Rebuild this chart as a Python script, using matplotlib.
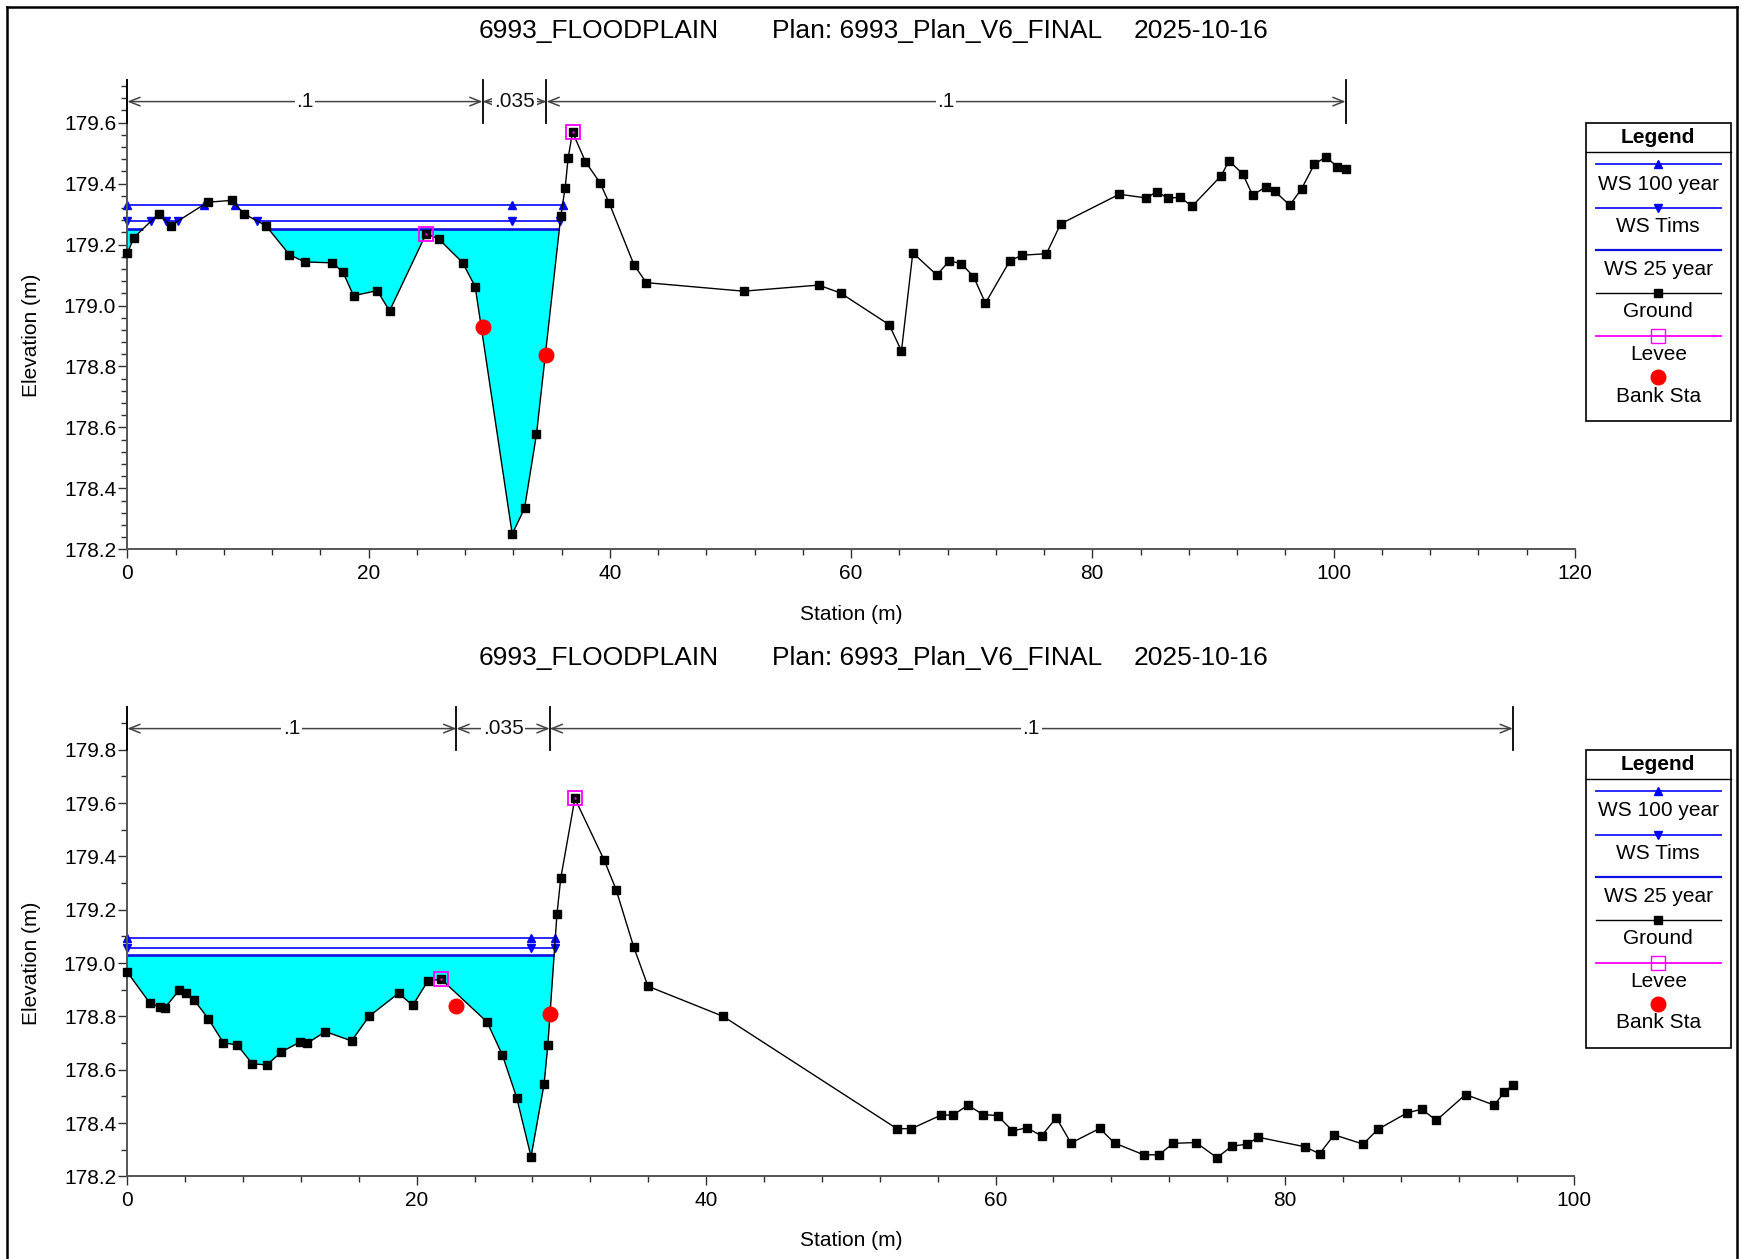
import matplotlib
matplotlib.use('Agg')
import matplotlib.pyplot as plt
import matplotlib.transforms as mtransforms
from matplotlib.lines import Line2D
from matplotlib.patches import Rectangle
from matplotlib.ticker import MultipleLocator
import numpy as np

plt.rcParams['font.family'] = ['Liberation Sans', 'DejaVu Sans']

# ---------------- data : upper cross section ----------------
top_station = [0.0, 0.55, 2.60, 3.59, 6.66, 8.67, 9.67, 11.49, 13.43, 14.70, 16.99, 17.87,
               18.76, 20.72, 21.74, 24.78, 25.83, 27.79, 28.84, 31.91, 32.93, 33.92, 35.94,
               36.30, 36.55, 36.91, 37.98, 39.20, 39.96, 42.01, 43.03, 51.09, 57.31, 59.13,
               63.16, 64.18, 65.12, 67.11, 68.16, 69.15, 70.15, 71.14, 73.17, 74.18, 76.20,
               77.38, 82.23, 84.48, 85.37, 86.25, 87.27, 88.28, 90.69, 91.33, 92.47, 93.29,
               94.37, 95.13, 96.37, 97.35, 98.40, 99.38, 100.27, 101.0]
top_elev = [179.171, 179.223, 179.301, 179.262, 179.339, 179.345, 179.301, 179.262, 179.167,
            179.143, 179.140, 179.110, 179.032, 179.049, 178.982, 179.236, 179.218, 179.141,
            179.062, 178.250, 178.334, 178.577, 179.294, 179.387, 179.485, 179.569, 179.472,
            179.402, 179.335, 179.133, 179.075, 179.047, 179.067, 179.041, 178.937, 178.851,
            179.173, 179.100, 179.147, 179.137, 179.095, 179.008, 179.147, 179.165, 179.170,
            179.268, 179.365, 179.353, 179.374, 179.352, 179.355, 179.326, 179.426, 179.475,
            179.432, 179.362, 179.389, 179.375, 179.329, 179.383, 179.463, 179.488, 179.456,
            179.448]
top_levee_sta = [24.78, 36.91]
top_levee_elev = [179.236, 179.569]
top_bank_sta = [29.45, 34.75]
top_bank_elev = [178.930, 178.836]
top_n_bounds = [0.0, 29.45, 34.75, 101.0]
top_n_values = ['.1', '.035', '.1']
top_ws100 = 179.330
top_ws100_segments = [(0.0, 6.35), (8.9, 36.08)]
top_ws100_markers = [0.0, 6.35, 8.9, 31.9, 36.08]
top_wstims = 179.277
top_wstims_segments = [(0.0, 1.93), (3.2, 4.2), (10.77, 35.9)]
top_wstims_markers = [0.0, 1.93, 3.2, 4.2, 10.77, 31.9, 35.9]
top_ws25 = 179.251
top_ws25_segments = [(0.0, 1.29), (11.71, 35.82)]

# ---------------- data : lower cross section ----------------
bot_station = [0.0, 1.57, 2.26, 2.61, 3.58, 4.03, 4.61, 5.60, 6.64, 7.60, 8.64, 9.65, 10.65,
               11.94, 12.42, 13.69, 15.50, 16.70, 18.75, 19.72, 20.76, 21.68, 24.86, 25.92,
               26.91, 27.90, 28.80, 29.06, 29.69, 29.95, 30.93, 32.96, 33.78, 34.99, 35.98,
               41.18, 53.18, 54.19, 56.24, 57.06, 58.09, 59.13, 60.14, 61.17, 62.17, 63.18,
               64.20, 65.21, 67.20, 68.22, 70.24, 71.29, 72.27, 73.86, 75.30, 76.32, 77.40,
               78.14, 81.38, 82.39, 83.40, 85.40, 86.41, 88.43, 89.45, 90.46, 92.48, 94.47,
               95.13, 95.75]
bot_elev = [178.966, 178.849, 178.835, 178.833, 178.898, 178.886, 178.862, 178.791, 178.701,
            178.693, 178.622, 178.618, 178.667, 178.704, 178.699, 178.743, 178.708, 178.800,
            178.887, 178.841, 178.932, 178.940, 178.779, 178.655, 178.495, 178.274, 178.546,
            178.692, 179.182, 179.317, 179.617, 179.385, 179.275, 179.061, 178.913, 178.800,
            178.379, 178.379, 178.430, 178.430, 178.467, 178.432, 178.428, 178.371, 178.382,
            178.352, 178.420, 178.325, 178.380, 178.325, 178.281, 178.281, 178.324, 178.327,
            178.270, 178.313, 178.321, 178.347, 178.311, 178.285, 178.356, 178.321, 178.376,
            178.438, 178.452, 178.410, 178.507, 178.467, 178.515, 178.542]
bot_levee_sta = [21.68, 30.93]
bot_levee_elev = [178.940, 179.617]
bot_bank_sta = [22.74, 29.19]
bot_bank_elev = [178.839, 178.808]
bot_n_bounds = [0.0, 22.74, 29.19, 95.75]
bot_n_values = ['.1', '.035', '.1']
bot_ws100 = 179.093
bot_ws100_segments = [(0.0, 29.59)]
bot_ws100_markers = [0.0, 27.9, 29.59]
bot_wstims = 179.057
bot_wstims_segments = [(0.0, 29.54)]
bot_wstims_markers = [0.0, 27.9, 29.54]
bot_ws25 = 179.031
bot_ws25_segments = [(0.0, 29.51)]

title_parts = ['6993_FLOODPLAIN', 'Plan: 6993_Plan_V6_FINAL', '2025-10-16']
legend_labels = ['WS 100 year', 'WS Tims', 'WS 25 year', 'Ground', 'Levee', 'Bank Sta']

# ---------------- figure ----------------
W, H = 1741, 1259
fig = plt.figure(figsize=(W / 100, H / 100), dpi=100)


def fx(px):
    return px / W


def fy(py):
    return 1 - py / H


WS_COLOR = '#2a2aff'
AX_COLOR = '#555555'
FS = 15
TRI_MS = 6.2
BANK_MS = 10.5


def draw_panel(ax, station, elev, levee_sta, levee_elev, bank_sta, bank_elev,
               n_bounds, n_vals, ws100, ws100_seg, ws100_mk, wst, wst_seg, wst_mk,
               ws25, ws25_seg, xmax, ylim, y_minor):
    st = np.array(station)
    el = np.array(elev)
    ax.set_xlim(0, xmax)
    ax.set_ylim(*ylim)
    for s in ['top', 'right']:
        ax.spines[s].set_visible(False)
    for s in ['left', 'bottom']:
        ax.spines[s].set_color(AX_COLOR)
        ax.spines[s].set_linewidth(1.4)
    ax.xaxis.set_major_locator(MultipleLocator(20))
    ax.xaxis.set_minor_locator(MultipleLocator(4))
    ax.yaxis.set_major_locator(MultipleLocator(0.2))
    ax.yaxis.set_minor_locator(MultipleLocator(y_minor))
    ax.yaxis.set_major_formatter(matplotlib.ticker.FormatStrFormatter('%.1f'))
    ax.tick_params(which='major', length=6.5, width=1.0, color='#303030', labelsize=FS)
    ax.tick_params(which='minor', length=4.0, width=1.0, color='#303030')
    ax.tick_params(axis='y', which='major', pad=1.5)
    ax.tick_params(axis='x', which='major', pad=4)

    # water fill (WS 25 year)
    chan_end = ws25_seg[-1][1]
    mask = (el <= ws25) & (st <= chan_end + 0.2)
    ax.fill_between(st, el, ws25, where=mask, interpolate=True,
                    color='#00ffff', linewidth=0, zorder=1)
    for a, b in ws25_seg:
        ax.plot([a, b], [ws25, ws25], color='#1010e0', lw=1.9, zorder=2,
                solid_capstyle='butt')
    for a, b in ws100_seg:
        ax.plot([a, b], [ws100, ws100], color=WS_COLOR, lw=1.4, zorder=2)
    ax.plot(ws100_mk, [ws100] * len(ws100_mk), linestyle='none', marker='^',
            color='#0000ff', ms=TRI_MS, zorder=2.5, clip_on=False)
    for a, b in wst_seg:
        ax.plot([a, b], [wst, wst], color=WS_COLOR, lw=1.4, zorder=2)
    ax.plot(wst_mk, [wst] * len(wst_mk), linestyle='none', marker='v',
            color='#0000ff', ms=TRI_MS, zorder=2.5, clip_on=False)

    # ground
    ax.plot(st, el, color='black', lw=1.0, marker='s', ms=6, mfc='black',
            mec='black', zorder=3, clip_on=False)
    # levees
    ax.plot(levee_sta, levee_elev, linestyle='none', marker='s', ms=10.5,
            mfc='none', mec='#ff00ff', mew=1.3, zorder=4)
    ax.plot(levee_sta, levee_elev, linestyle='none', marker='.', ms=1.5,
            color='#ff00ff', zorder=4.5)
    # bank stations
    ax.plot(bank_sta, bank_elev, linestyle='none', marker='o', ms=BANK_MS,
            color='#ff0000', zorder=5)

    # Manning's n annotations
    trans = mtransforms.blended_transform_factory(ax.transData, ax.transAxes)
    yrow = 0.954
    for b in n_bounds:
        ax.plot([b, b], [0.909, 1.0], transform=trans, color='black', lw=1.3,
                clip_on=False, zorder=6)
    for i, v in enumerate(n_vals):
        a, b = n_bounds[i], n_bounds[i + 1]
        ax.annotate('', xy=(b, yrow), xytext=(a, yrow), xycoords=trans,
                    textcoords=trans,
                    arrowprops=dict(arrowstyle='<->, head_length=0.55, head_width=0.22',
                                    color='#444444', lw=1.1, shrinkA=0, shrinkB=0,
                                    mutation_scale=14), zorder=6)
        ax.text((a + b) / 2, yrow, v, transform=trans, ha='center', va='center',
                fontsize=FS, color='#111111', zorder=7,
                bbox=dict(fc='white', ec='none', pad=1.2))


# axes placement (pixel based)
ax_top = fig.add_axes([fx(127.3), fy(549.3), (1574.8 - 127.3) / W, (549.3 - 80) / H])
ax_bot = fig.add_axes([fx(127.3), fy(1176.4), (1574.4 - 127.3) / W, (1176.4 - 707) / H])

draw_panel(ax_top, top_station, top_elev, top_levee_sta, top_levee_elev, top_bank_sta,
           top_bank_elev, top_n_bounds, top_n_values, top_ws100, top_ws100_segments,
           top_ws100_markers, top_wstims, top_wstims_segments, top_wstims_markers,
           top_ws25, top_ws25_segments, 120, (178.2, 179.74), 0.04)
draw_panel(ax_bot, bot_station, bot_elev, bot_levee_sta, bot_levee_elev, bot_bank_sta,
           bot_bank_elev, bot_n_bounds, bot_n_values, bot_ws100, bot_ws100_segments,
           bot_ws100_markers, bot_wstims, bot_wstims_segments, bot_wstims_markers,
           bot_ws25, bot_ws25_segments, 100, (178.2, 179.96), 0.1)

# titles & axis labels
title_x = [478.5, 772.3, 1133.4]
for ty, ey, sy in [(31, 335, 614), (658, 963, 1241)]:
    for tx, t in zip(title_x, title_parts):
        fig.text(fx(tx), fy(ty), t, ha='left', va='center', fontsize=19)
    fig.text(fx(31.7), fy(ey), 'Elevation (m)', rotation=90, ha='center', va='center',
             fontsize=FS)
    fig.text(fx(851), fy(sy), 'Station (m)', ha='center', va='center', fontsize=FS)


# legends
def draw_legend(dy):
    x0, x1 = 1585.5, 1730.7
    y0, y1 = 122.7 + dy, 420.7 + dy
    fig.add_artist(Rectangle((fx(x0), fy(y1)), (x1 - x0) / W, (y1 - y0) / H,
                             transform=fig.transFigure, fill=False, ec='black', lw=1.2))
    fig.add_artist(Line2D([fx(x0), fx(x1)], [fy(152.3 + dy)] * 2,
                          transform=fig.transFigure, color='black', lw=1.0))
    cx = 1658.3
    fig.text(fx(cx), fy(137.5 + dy), 'Legend', ha='center', va='center',
             fontsize=15, fontweight='bold')
    lx = [fx(1596), fx(1720.7)]
    line_y = [164.3, 207.7, 250.3, 293.0, 336.0, 377.3]
    text_y = [184.0, 226.7, 269.3, 311.7, 355.0, 396.0]
    styles = [
        dict(color=WS_COLOR, lw=1.4, marker='^', mfc='#0000ff', mec='#0000ff', ms=TRI_MS),
        dict(color=WS_COLOR, lw=1.4, marker='v', mfc='#0000ff', mec='#0000ff', ms=TRI_MS),
        dict(color='#1010e0', lw=1.6, marker=None),
        dict(color='black', lw=1.0, marker='s', mfc='black', mec='black', ms=6),
        dict(color='#ff00ff', lw=1.3, marker='s', mfc='none', mec='#ff00ff', ms=10.5),
        dict(color='none', lw=0, marker='o', mfc='#ff0000', mec='#ff0000', ms=BANK_MS),
    ]
    for ly, ty, lab, stl in zip(line_y, text_y, legend_labels, styles):
        yy = fy(ly + dy)
        fig.add_artist(Line2D(lx, [yy, yy], transform=fig.transFigure,
                              color=stl['color'], lw=stl['lw']))
        if stl['marker']:
            fig.add_artist(Line2D([fx(cx)], [yy], transform=fig.transFigure,
                                  linestyle='none', marker=stl['marker'], ms=stl['ms'],
                                  mfc=stl['mfc'], mec=stl['mec']))
        fig.text(fx(cx), fy(ty + dy), lab, ha='center', va='center', fontsize=15)


draw_legend(0)
draw_legend(626.9)

# outer frame
for xs, ys in [([7, 1737], [7, 7]), ([7, 7], [7, 1262]), ([1737, 1737], [7, 1262])]:
    fig.add_artist(Line2D([fx(x) for x in xs], [fy(y) for y in ys],
                          transform=fig.transFigure, color='black', lw=1.8))

fig.savefig('out.png', dpi=100)
